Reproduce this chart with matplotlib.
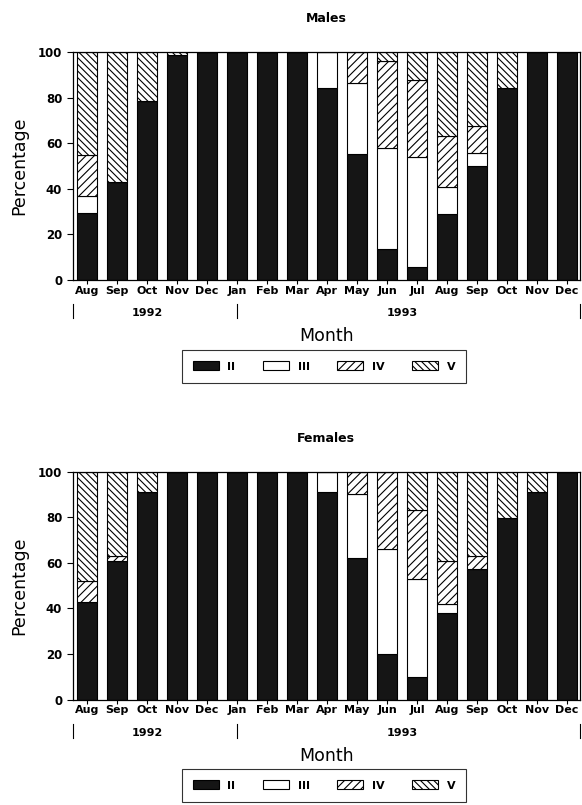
import matplotlib
matplotlib.use('Agg')
import matplotlib.pyplot as plt
import matplotlib.transforms as mtransforms
from matplotlib.patches import Patch
import numpy as np

plt.rcParams['font.family'] = ['DejaVu Sans']
plt.rcParams['hatch.linewidth'] = 0.8

# ---------------- data ----------------
months = ['Aug', 'Sep', 'Oct', 'Nov', 'Dec', 'Jan', 'Feb', 'Mar', 'Apr',
          'May', 'Jun', 'Jul', 'Aug', 'Sep', 'Oct', 'Nov', 'Dec']
stages = ['II', 'III', 'IV', 'V']
years = ['1992', '1993']
year_centers = [2, 10.5]
year_dividers = [-0.48, 5, 16.43]

males_II = [29.5, 43, 78.5, 98.7, 100, 100, 100, 100, 84, 55.3, 13.6, 5.8, 29, 50, 84, 100, 100]
males_III = [7.3, 0, 0, 0, 0, 0, 0, 0, 16, 31, 44.4, 48.2, 12, 5.6, 0, 0, 0]
males_IV = [18, 0, 0, 0, 0, 0, 0, 0, 0, 13.7, 38, 33.7, 22, 12, 0, 0, 0]
males_V = [45.2, 57, 21.5, 1.3, 0, 0, 0, 0, 0, 0, 4, 12.3, 37, 32.4, 16, 0, 0]

females_II = [43, 61, 91, 100, 100, 100, 100, 100, 91, 62, 20, 10, 38, 57.5, 79.5, 91, 100]
females_III = [0, 0, 0, 0, 0, 0, 0, 0, 9, 28, 46, 43, 4, 0, 0, 0, 0]
females_IV = [9, 2, 0, 0, 0, 0, 0, 0, 0, 10, 34, 30, 19, 5.5, 0, 0, 0]
females_V = [48, 37, 9, 0, 0, 0, 0, 0, 0, 0, 0, 17, 39, 37, 20.5, 9, 0]

# ---------------- styles ----------------
facecolors = ['#151515', 'white', 'white', 'white']
hatches = [None, None, '////', '\\\\\\\\\\']

W, H = 582, 805
fig = plt.figure(figsize=(W / 100, H / 100), dpi=100)


def axrect(l, t, r, b):
    return [l / W, 1 - b / H, (r - l) / W, (b - t) / H]


def draw(ax, title, series, top_px, bottom_px, legend_top_px):
    x = np.arange(len(months))
    bottom = np.zeros(len(months))
    for vals, fc, h in zip(series, facecolors, hatches):
        vals = np.array(vals, float)
        ax.bar(x, vals, width=0.67, bottom=bottom, color=fc, edgecolor='black',
               linewidth=0.8, hatch=h)
        bottom += vals
    ax.set_xlim(-0.48, 16.43)
    ax.set_ylim(0, 100)
    ax.set_yticks(range(0, 101, 20))
    ax.set_xticks(x)
    ax.set_xticklabels(months, fontsize=8, fontweight='bold')
    for lab in ax.get_yticklabels():
        lab.set_fontweight('bold')
        lab.set_fontsize(8.5)
    ax.tick_params(axis='y', length=4.5, width=0.8, pad=3)
    ax.tick_params(axis='x', length=3, width=0.8, pad=1)
    for s in ax.spines.values():
        s.set_linewidth(0.9)

    hpx = bottom_px - top_px
    trans = mtransforms.blended_transform_factory(ax.transData, ax.transAxes)
    for xd in year_dividers:
        ax.plot([xd, xd], [-24 / hpx, -38 / hpx], color='black', lw=0.8,
                transform=trans, clip_on=False)
    for yr, xc in zip(years, year_centers):
        ax.text(xc, -33 / hpx, yr, transform=trans, ha='center', va='center',
                fontsize=8, fontweight='bold')

    cx = (72.7 + 580) / 2 / W
    fig.text(cx, 1 - (top_px - 33.7) / H, title, ha='center', va='center',
             fontsize=9, fontweight='bold')
    fig.text(19.5 / W, 1 - (top_px + bottom_px) / 2 / H, 'Percentage',
             rotation=90, ha='center', va='center', fontsize=12.5)
    fig.text(cx, 1 - (bottom_px + 56) / H, 'Month', ha='center', va='center',
             fontsize=12.5)

    handles = [Patch(facecolor=fc, edgecolor='black', hatch=h, linewidth=0.8)
               for fc, h in zip(facecolors, hatches)]
    leg = fig.legend(handles, stages, loc='upper center',
                     bbox_to_anchor=(324.2 / W, 1 - legend_top_px / H), ncol=4,
                     prop={'weight': 'bold', 'size': 8}, frameon=True,
                     fancybox=False, edgecolor='black', handlelength=2.3,
                     handleheight=0.9, handletextpad=0.8, columnspacing=2.5,
                     borderpad=1.0, borderaxespad=0)
    leg.get_frame().set_linewidth(0.8)


ax_m = fig.add_axes(axrect(72.7, 52, 580, 280))
draw(ax_m, 'Males', [males_II, males_III, males_IV, males_V], 52, 280, 350)

ax_f = fig.add_axes(axrect(72.7, 471.7, 580, 699.5))
draw(ax_f, 'Females', [females_II, females_III, females_IV, females_V], 471.7, 699.5, 769)

fig.savefig('out.png', dpi=100)
